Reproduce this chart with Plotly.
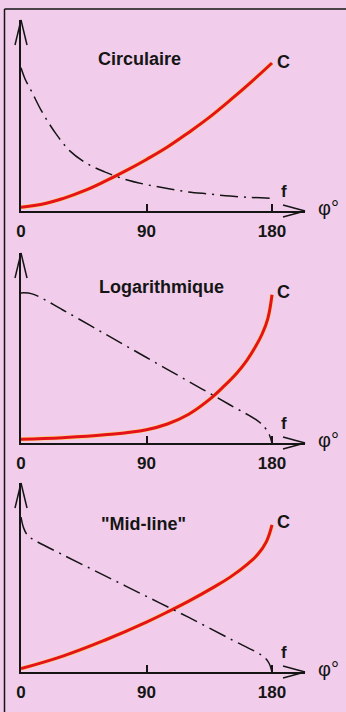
import plotly.graph_objects as go
from plotly.subplots import make_subplots

# ---- data (angle in degrees, value in arbitrary units 0..100) ----
panel_titles = ['Circulaire', 'Logarithmique', '"Mid-line"']
tick_vals = [0, 90, 180]
tick_text = ['0', '90', '180']

# Circulaire
phi_c1 = [0, 15, 30, 45, 60, 75, 90, 105, 120, 135, 150, 165, 180]
c1 = [2, 3.5, 6.5, 10.5, 15.5, 21, 27, 33.5, 41, 49, 58, 67.5, 77.5]
phi_f1 = [0, 3, 8, 15, 25, 35, 47, 60, 75, 90, 105, 120, 135, 150, 165, 180]
f1 = [75, 69, 62, 52, 40.5, 31.5, 25, 20.5, 16.5, 13.8, 11.8, 10, 8.9, 7.8, 7.1, 6.6]

# Logarithmique
phi_c2 = [0, 30, 60, 90, 105, 120, 135, 145, 155, 162, 168, 173, 177, 180]
c2 = [2, 2.8, 4.3, 7, 10, 15, 22.8, 29.5, 37, 43.5, 50.5, 57.5, 65.5, 78]
phi_f2 = [0, 8, 30, 60, 90, 120, 150, 170, 175, 178, 180]
f2 = [79, 78.5, 70, 57.5, 45, 32.5, 20, 11.5, 8, 4.5, 0]

# "Mid-line"
phi_c3 = [0, 30, 60, 90, 107, 120, 138, 150, 162, 170, 176, 180]
c3 = [1.8, 8.4, 16.8, 26.4, 32.5, 37.4, 44.8, 50.2, 56.8, 62.4, 69, 77.8]
phi_f3 = [0, 2, 5, 9, 30, 60, 90, 120, 150, 170, 175, 178, 180]
f3 = [82, 76, 72, 70, 62, 51, 40, 29, 17.5, 10, 7.5, 4.5, 0]

curves = [(phi_c1, c1, phi_f1, f1), (phi_c2, c2, phi_f2, f2), (phi_c3, c3, phi_f3, f3)]

W, H = 346, 712
BG = '#f2cdeb'
INK = '#151515'
RED = '#e5121b'
FONT = 'Liberation Sans, Arial, sans-serif'

# pixel layout of the three panels: (y of arrow tip, y of x axis)
panels_px = [(20, 211), (253, 443), (483, 672)]
x_left, x_180, x_tip = 21, 272, 305
deg_per_px = 180 / (x_180 - x_left)
x_max = (x_tip - x_left) * deg_per_px


def px(x):
    return x / W


def py(y):
    return 1 - y / H


fig = make_subplots(rows=3, cols=1)

for i, (pc, c, pf, f) in enumerate(curves):
    row = i + 1
    # yellow misregistration halo under the red curve
    fig.add_trace(go.Scatter(x=pc, y=c, mode='lines', line=dict(color='#f8d46e', width=4.2, shape='spline', smoothing=1.2),
                             hoverinfo='skip', showlegend=False), row=row, col=1)
    fig.add_trace(go.Scatter(x=pc, y=c, mode='lines', line=dict(color=RED, width=3, shape='spline', smoothing=1.2),
                             name='C', showlegend=False), row=row, col=1)
    fig.add_trace(go.Scatter(x=pf, y=f, mode='lines', line=dict(color=INK, width=1.5, shape='spline', smoothing=1.0,
                                                                 dash='18px,6px,2px,6px'),
                             name='f', showlegend=False), row=row, col=1)

    top, axis = panels_px[i]
    yaxis_name = 'yaxis' if row == 1 else 'yaxis%d' % row
    xaxis_name = 'xaxis' if row == 1 else 'xaxis%d' % row
    fig.layout[xaxis_name].update(
        domain=[px(x_left), px(x_tip)], range=[0, x_max], showgrid=False, zeroline=False,
        showline=True, linecolor=INK, linewidth=1.5,
        tickvals=tick_vals, ticktext=tick_text, ticks='inside', ticklen=7, tickwidth=1.5, tickcolor=INK,
        tickfont=dict(family=FONT, size=17, color=INK, weight='bold'), ticklabelstandoff=4,
        automargin=False, fixedrange=True,
    )
    fig.layout[yaxis_name].update(
        domain=[py(axis), py(top)], range=[0, 100], showgrid=False, zeroline=False,
        showline=True, linecolor=INK, linewidth=1.5, showticklabels=False, ticks='',
        automargin=False, fixedrange=True,
    )

    # open arrow heads on both axes
    for bx in (x_left - 6, x_left + 6):
        fig.add_shape(type='line', xref='paper', yref='paper', x0=px(x_left), y0=py(top), x1=px(bx), y1=py(top + 25),
                      line=dict(color=INK, width=1.5))
    for by in (axis - 6, axis + 6):
        fig.add_shape(type='line', xref='paper', yref='paper', x0=px(x_tip), y0=py(axis), x1=px(x_tip - 22), y1=py(by),
                      line=dict(color=INK, width=1.5))

    def label(text, x_pix, y_pix, size, bold=True):
        fig.add_annotation(x=px(x_pix), y=py(y_pix), xref='paper', yref='paper',
                           xanchor='center', yanchor='middle',
                           text=text, showarrow=False,
                           font=dict(family=FONT, size=size, color=INK, weight='bold' if bold else 'normal'))

    title_x = [139.5, 161, 143.5][i]
    title_y = [59, 287.5, 524][i]
    label(panel_titles[i], title_x, title_y, 18)
    label('C', 283, top + [42, 39, 39][i], 18)
    label('f', 284, axis - 20, 17)
    label('φ°', 328, axis - 3, 20, bold=False)

# frame around the figure
fig.add_shape(type='line', xref='paper', yref='paper', x0=px(4.5), y0=py(9), x1=px(4.5), y1=0,
              line=dict(color=INK, width=1.5))
fig.add_shape(type='line', xref='paper', yref='paper', x0=px(4.5), y0=py(9), x1=1, y1=py(9),
              line=dict(color=INK, width=1.5))

fig.update_layout(
    width=W, height=H, autosize=False,
    margin=dict(l=0, r=0, t=0, b=0),
    paper_bgcolor=BG, plot_bgcolor=BG,
    font=dict(family=FONT, color=INK),
    showlegend=False,
)

fig.write_html('out.html', config={'displayModeBar': False},
               post_script="document.body.style.margin='0';document.body.style.overflow='hidden';")
